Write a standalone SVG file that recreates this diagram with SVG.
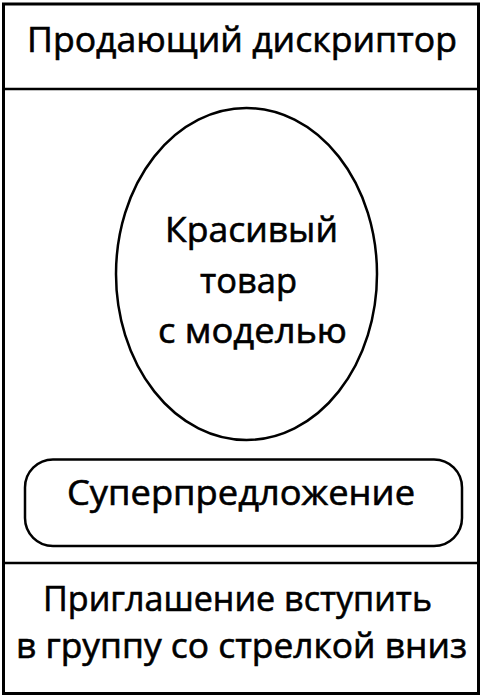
<svg xmlns="http://www.w3.org/2000/svg" width="484" height="698" viewBox="0 0 484 698">
<style>
  .shape { fill: none; stroke: #000; stroke-width: 2.5; }
  .frame { fill: #fff; stroke: #000; stroke-width: 3; }
  .lbl { font-family: "Open Sans", "Noto Sans", "Liberation Sans", sans-serif; font-size: 35px; fill: #000; stroke: #000; stroke-width: 0.6px; }
</style>
<rect x="0" y="0" width="484" height="698" fill="#fff"/>
<g id="frame">
  <rect class="frame" x="3.5" y="4" width="475" height="689.5"/>
  <line class="shape" x1="3.5" y1="89" x2="478.5" y2="89" stroke-width="3"/>
  <line class="shape" x1="3.5" y1="563" x2="478.5" y2="563" stroke-width="3"/>
</g>
<g id="header">
  <text class="lbl" x="27" y="52" textLength="430" lengthAdjust="spacingAndGlyphs">Продающий дискриптор</text>
</g>
<g id="product">
  <ellipse class="shape" cx="246.5" cy="274" rx="130.5" ry="166"/>
  <text class="lbl" x="165" y="242" textLength="173" lengthAdjust="spacingAndGlyphs">Красивый</text>
  <text class="lbl" x="200" y="293" textLength="97" lengthAdjust="spacingAndGlyphs">товар</text>
  <text class="lbl" x="158" y="343" textLength="189" lengthAdjust="spacingAndGlyphs">с моделью</text>
</g>
<g id="offer">
  <rect class="shape" x="25" y="459.5" width="437" height="86.5" rx="28" ry="28"/>
  <text class="lbl" x="67" y="505" textLength="348" lengthAdjust="spacingAndGlyphs">Суперпредложение</text>
</g>
<g id="footer">
  <text class="lbl" x="43" y="611" textLength="389" lengthAdjust="spacingAndGlyphs">Приглашение вступить</text>
  <text class="lbl" x="16" y="658" textLength="451" lengthAdjust="spacingAndGlyphs">в группу со стрелкой вниз</text>
</g>
<g id="connectors"></g>
</svg>
